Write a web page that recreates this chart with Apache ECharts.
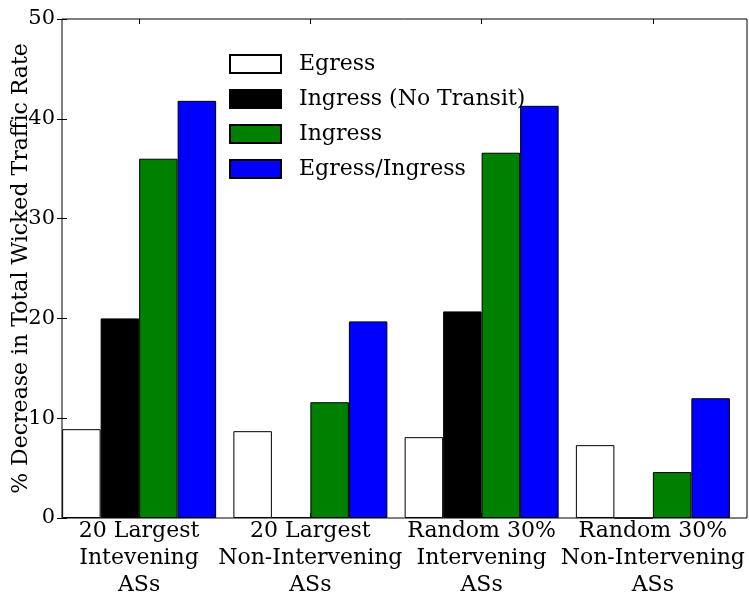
<!DOCTYPE html>
<html>
<head>
<meta charset="utf-8">
<script src="https://cdn.jsdelivr.net/npm/echarts@6/dist/echarts.min.js"></script>
<style>html,body{margin:0;padding:0;background:#fff}#c{width:749px;height:597px}</style>
</head>
<body>
<div id="c"></div>
<script>
const categories = ['20 Largest\nIntevening\nASs', '20 Largest\nNon-Intervening\nASs', 'Random 30%\nIntervening\nASs', 'Random 30%\nNon-Intervening\nASs'];
const seriesNames = ['Egress', 'Ingress (No Transit)', 'Ingress', 'Egress/Ingress'];
const egress = [8.9, 8.7, 8.1, 7.3];
const ingressNoTransit = [20.0, 0.1, 20.7, 0];
const ingress = [36.0, 11.6, 36.6, 4.6];
const egressIngress = [41.8, 19.7, 41.3, 12.0];
const yTicks = [0, 10, 20, 30, 40, 50];
const colors = ['#ffffff', '#000000', '#008000', '#0000ff'];

const FONT = 'DejaVu Serif';
const chart = echarts.init(document.getElementById('c'), null, {renderer: 'canvas'});
const values = [egress, ingressNoTransit, ingress, egressIngress];
const groupCenters = categories.map((c, i) => i + 0.45);

const series = values.map((v, i) => ({
  name: seriesNames[i],
  type: 'bar',
  xAxisIndex: 0,
  yAxisIndex: 0,
  data: v,
  barWidth: 38.5,
  barGap: '0%',
  itemStyle: {color: colors[i], borderColor: '#000', borderWidth: 1},
  emphasis: {disabled: true}
}));
series.push({
  name: 'pad',
  type: 'bar',
  xAxisIndex: 0,
  yAxisIndex: 0,
  data: categories.map(() => '-'),
  barWidth: 17,
  barGap: '0%',
  silent: true
});

chart.setOption({
  animation: false,
  backgroundColor: '#fff',
  grid: {left: 62, right: 2, top: 19, bottom: 79, outerBoundsMode: 'none', containLabel: false,
    show: true, borderColor: '#000', borderWidth: 1, backgroundColor: 'transparent'},
  legend: {
    data: seriesNames,
    orient: 'vertical',
    left: 229,
    top: 53,
    padding: 0,
    itemWidth: 51,
    itemHeight: 18,
    itemGap: 13,
    icon: 'rect',
    textStyle: {fontFamily: FONT, fontSize: 22, color: '#000', lineHeight: 22, padding: [0, 0, 0, 13]}
  },
  xAxis: [
    {type: 'category', data: categories, show: false, boundaryGap: true},
    {type: 'value', min: 0, max: 4, position: 'bottom',
      axisLine: {show: false}, splitLine: {show: false},
      axisTick: {show: true, inside: true, length: 5, customValues: groupCenters, lineStyle: {color: '#000'}},
      axisLabel: {show: true, customValues: groupCenters, margin: 0, fontFamily: FONT, fontSize: 22, color: '#000', lineHeight: 27, align: 'center',
        formatter: (v) => categories[Math.round(v - 0.45)]}
    },
    {type: 'value', min: 0, max: 4, position: 'top',
      axisLine: {show: false}, splitLine: {show: false},
      axisTick: {show: true, inside: true, length: 5, customValues: groupCenters, lineStyle: {color: '#000'}},
      axisLabel: {show: false}
    }
  ],
  yAxis: [
    {type: 'value', min: yTicks[0], max: yTicks[yTicks.length - 1], interval: 10, position: 'left',
      name: '% Decrease in Total Wicked Traffic Rate', nameLocation: 'middle', nameGap: 30, nameMoveOverlap: false,
      nameTextStyle: {fontFamily: FONT, fontSize: 22, color: '#000'},
      axisLine: {show: false}, splitLine: {show: false},
      axisTick: {show: true, inside: true, length: 5, lineStyle: {color: '#000'}},
      axisLabel: {fontFamily: FONT, fontSize: 21, color: '#000', margin: 7}
    },
    {type: 'value', min: yTicks[0], max: yTicks[yTicks.length - 1], interval: 10, position: 'right',
      axisLine: {show: false}, splitLine: {show: false},
      axisTick: {show: true, inside: true, length: 5, lineStyle: {color: '#000'}},
      axisLabel: {show: false}
    }
  ],
  series: series
});
</script>
</body>
</html>
